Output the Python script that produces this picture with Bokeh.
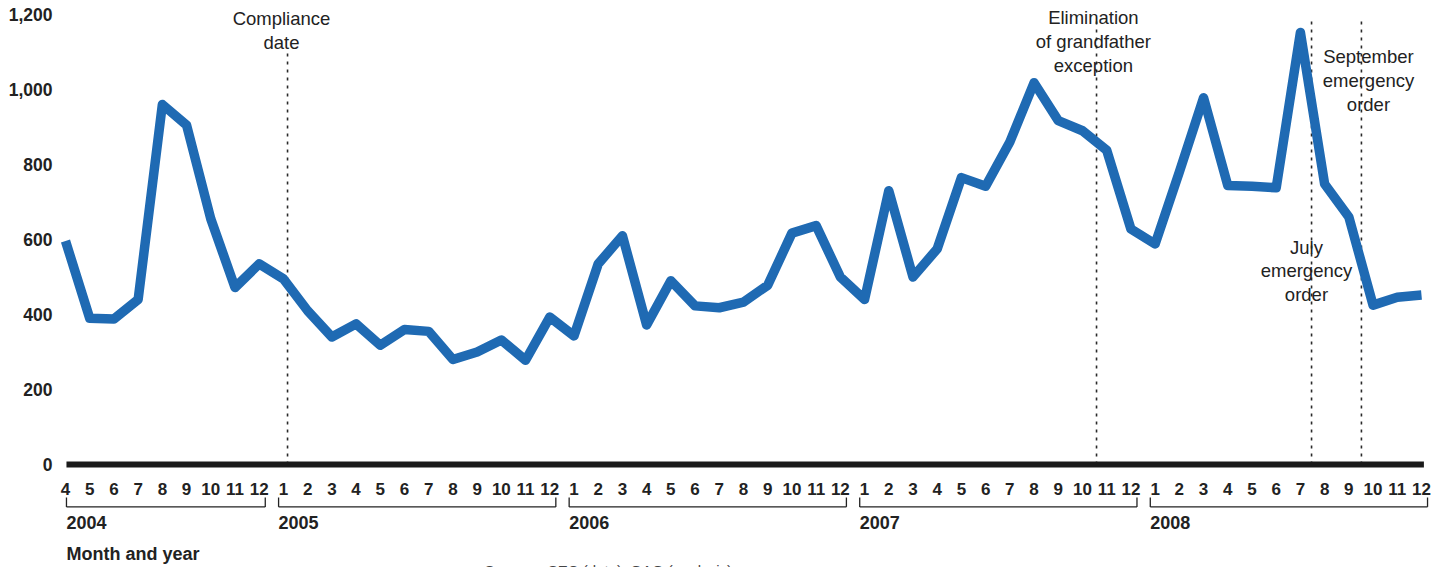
from bokeh.plotting import figure
from bokeh.models import Range1d, FixedTicker, NumeralTickFormatter, GlobalInlineStyleSheet
from bokeh.core.properties import value
from bokeh.embed import file_html
from bokeh.resources import INLINE

# ---------------- data ----------------
month_labels = [str(m) for m in range(4, 13)] + [str(m) for m in range(1, 13)] * 4
years = ["2004", "2005", "2006", "2007", "2008"]
year_first = [0, 9, 21, 33, 45]      # month index of first month in each year
year_last = [8, 20, 32, 44, 56]      # month index of last month in each year

values_2004 = [596, 390, 388, 440, 960, 905, 655, 472, 535]
values_2005 = [495, 410, 340, 375, 318, 360, 355, 280, 300, 332, 278, 393]
values_2006 = [343, 535, 610, 372, 490, 423, 418, 433, 478, 617, 637, 500]
values_2007 = [440, 730, 500, 575, 765, 742, 860, 1018, 917, 890, 838, 628]
values_2008 = [588, 780, 978, 744, 742, 738, 1152, 748, 660, 425, 446, 452]
values = values_2004 + values_2005 + values_2006 + values_2007 + values_2008

y_ticks = [0, 200, 400, 600, 800, 1000, 1200]

event_labels = ["Compliance\ndate", "Elimination\nof grandfather\nexception",
                "July\nemergency\norder", "September\nemergency\norder"]
event_pos = [9.17, 42.58, 51.46, 53.52]   # position of event (in months since Apr 2004)

x_title = "Month and year"
source_note = "Sources: SEC (data); GAO (analysis)."

# ---------------- figure ----------------
FONT = "Liberation Sans"
TXT = "#222222"
W, H = 1449, 567
LEFT = 58
px_per_month = 24.214
px_per_unit = 0.375
x0_page = 65.0
y0_page = 464.0
x_start = (LEFT - x0_page) / px_per_month
x_end = (W - x0_page) / px_per_month
y_end = (y0_page - 0) / px_per_unit
y_start = (y0_page - H) / px_per_unit

p = figure(width=W, height=H, output_backend="svg", toolbar_location=None,
           x_range=Range1d(x_start, x_end), y_range=Range1d(y_start, y_end),
           x_axis_type=None, min_border_left=LEFT, min_border_right=0,
           min_border_top=0, min_border_bottom=0)
p.outline_line_color = None
p.xgrid.grid_line_color = None
p.ygrid.grid_line_color = None
p.background_fill_color = "white"
p.border_fill_color = "white"
p.stylesheets = [GlobalInlineStyleSheet(css="html, body { overflow: hidden; }")]

ya = p.yaxis[0]
ya.ticker = FixedTicker(ticks=y_ticks)
ya.formatter = NumeralTickFormatter(format="0,0")
ya.axis_line_color = None
ya.major_tick_line_color = None
ya.minor_tick_line_color = None
ya.major_tick_out = 0
ya.major_tick_in = 0
ya.major_label_standoff = 6
ya.major_label_text_font = FONT
ya.major_label_text_font_style = "bold"
ya.major_label_text_font_size = "17.5px"
ya.major_label_text_color = TXT

idx = list(range(len(values)))

# event dotted lines
line_tops = [1104, 1192, 1192, 1192]
p.segment(x0=event_pos, y0=[0] * 4, x1=event_pos, y1=line_tops,
          line_color="#2a2a2a", line_width=1.6, line_dash="3 5")

# event labels
lab_x = [8.92, 42.45, 51.25, 53.81]
lab_y = [1157, 1128, 517, 1024]
p.text(x=lab_x, y=lab_y, text=event_labels, text_align="center", text_baseline="middle",
       text_font=value(FONT), text_font_size="18.5px", text_color=TXT, text_line_height=1.12)

# data line
p.line(idx, values, line_color="#1f6ab3", line_width=9.5, line_join="round", line_cap="butt")

# zero line
p.segment(x0=[0.04], y0=[0], x1=[56.1], y1=[0], line_color="#1a1a1a", line_width=6, line_cap="butt")

# month labels
p.text(x=idx, y=[-64] * len(idx), text=month_labels, text_align="center", text_baseline="middle",
       text_font=value(FONT), text_font_style="bold",
       text_font_size="17px", text_color=TXT)

# year brackets
b_start = [max(f - 0.2, 0.04) for f in year_first]
b_end = [l + 0.25 for l in year_last]
p.segment(x0=b_start, y0=[-113] * 5, x1=b_end, y1=[-113] * 5, line_color=TXT, line_width=1.3)
p.segment(x0=b_start, y0=[-113] * 5, x1=b_start, y1=[-88] * 5, line_color=TXT, line_width=1.3)
p.segment(x0=b_end, y0=[-113] * 5, x1=b_end, y1=[-88] * 5, line_color=TXT, line_width=1.3)
p.text(x=b_start, y=[-154] * 5, text=years, text_align="left", text_baseline="middle",
       text_font=value(FONT), text_font_style="bold", text_font_size="18px", text_color=TXT)

# axis title and source
p.text(x=[0.04], y=[-238.7], text=[x_title], text_align="left", text_baseline="middle",
       text_font=value(FONT), text_font_style="bold", text_font_size="18px", text_color=TXT)
p.text(x=[17.3], y=[-261.3], text=[source_note], text_align="left", text_baseline="top",
       text_font=value(FONT), text_font_size="15px", text_color="#444444")

open("out.html", "w").write(file_html(p, INLINE))
